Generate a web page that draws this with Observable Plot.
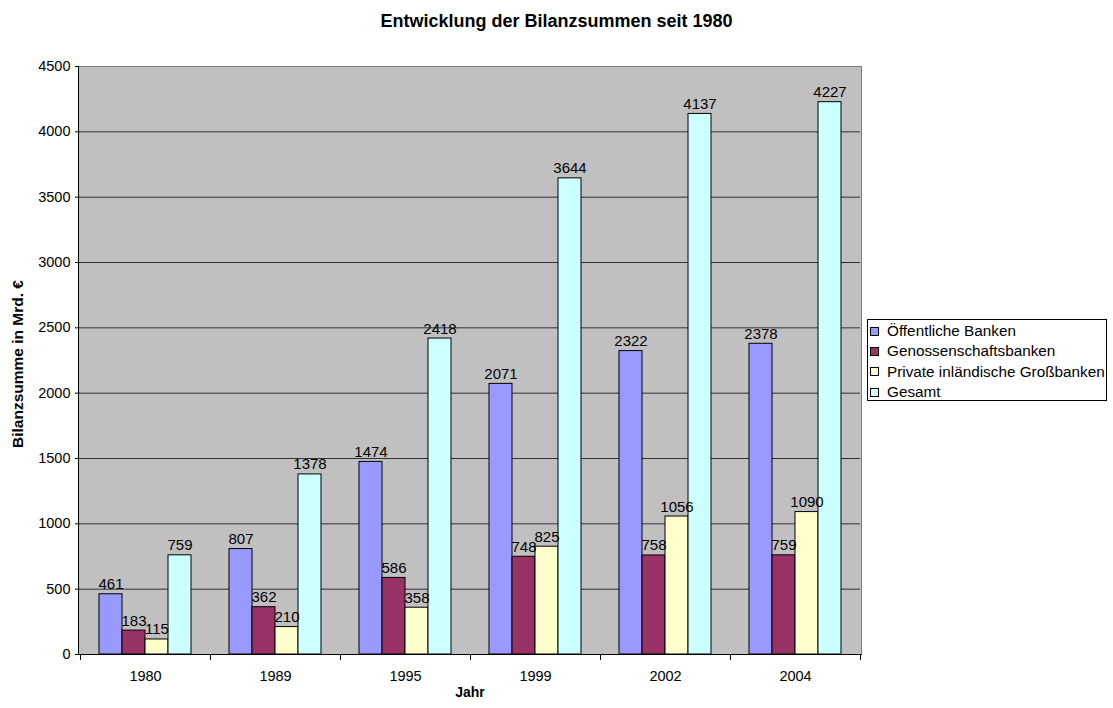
<!DOCTYPE html>
<html>
<head>
<meta charset="utf-8">
<script src="https://cdn.jsdelivr.net/npm/d3@7"></script>
<script src="https://cdn.jsdelivr.net/npm/@observablehq/plot@0.6"></script>
<style>
  html, body { margin: 0; padding: 0; background: #fff; }
  #wrap { position: relative; width: 1113px; height: 708px; font-family: "Liberation Sans", Arial, sans-serif; color: #000; }
  #title { position: absolute; left: 0; top: 11px; width: 1113px; text-align: center; font-weight: bold; font-size: 18px; line-height: 20px; }
  #legend { position: absolute; left: 867px; top: 319px; width: 240px; height: 82px; border: 1px solid #000; background: #fff; box-sizing: border-box; padding-top: 1px; }
  .li { display: flex; align-items: center; height: 20.3px; font-size: 15.3px; white-space: nowrap; }
  .sw { width: 7px; height: 7px; border: 1px solid #000; margin-left: 2px; margin-right: 8px; }
  #chart { position: absolute; left: 0; top: 0; }
</style>
</head>
<body>
<div id="wrap">
  <div id="chart"></div>
  <div id="title"></div>
  <div id="legend"></div>
</div>
<script>
const titleText = "Entwicklung der Bilanzsummen seit 1980";
const yLabel = "Bilanzsumme in Mrd. €";
const xLabel = "Jahr";
const years = ["1980", "1989", "1995", "1999", "2002", "2004"];
const series = ["Öffentliche Banken", "Genossenschaftsbanken", "Private inländische Großbanken", "Gesamt"];
const oeffentliche = [461, 807, 1474, 2071, 2322, 2378];
const genossenschaft = [183, 362, 586, 748, 758, 759];
const privat = [115, 210, 358, 825, 1056, 1090];
const gesamt = [759, 1378, 2418, 3644, 4137, 4227];
const yTicks = [0, 500, 1000, 1500, 2000, 2500, 3000, 3500, 4000, 4500];
const colors = ["#9999FF", "#993366", "#FFFFCC", "#CCFFFF"];

const seriesValues = [oeffentliche, genossenschaft, privat, gesamt];
const data = [];
years.forEach((yr, i) => {
  series.forEach((s, j) => {
    data.push({year: yr, series: s, value: seriesValues[j][i]});
  });
});

const chart = Plot.plot({
  width: 1113,
  height: 708,
  marginTop: 66,
  marginBottom: 54,
  marginLeft: 78,
  marginRight: 251,
  style: {fontFamily: "'Liberation Sans', Arial, sans-serif", fontSize: "14.5px", color: "#000", background: "transparent", overflow: "visible"},
  fx: {domain: years, padding: 0, label: null},
  x: {domain: series, paddingInner: 0, paddingOuter: 0.75, axis: null},
  y: {domain: [0, 4500], label: null},
  color: {domain: series, range: colors},
  marks: [
    Plot.gridY(yTicks, {stroke: "#000", strokeOpacity: 0.75, strokeWidth: 1}),
    Plot.barY(data, {fx: "year", x: "series", y: "value", fill: "series", stroke: "#000", strokeWidth: 1}),
    Plot.text(data, {fx: "year", x: "series", y: "value", text: d => String(d.value), lineAnchor: "bottom", dy: -5, fill: "#000", fontSize: 15}),
    Plot.axisY(yTicks, {tickSize: 5, tickPadding: 5, label: null, fontSize: 14.5, stroke: "#000", tickFormat: d => String(d)}),
    Plot.axisFx({anchor: "bottom", tickSize: 0, tickPadding: 16, label: null, fontSize: 14.5})
  ]
});
document.getElementById("chart").appendChild(chart);

// Chart furniture built from the library's scales
const svg = d3.select(chart);
const fx = chart.scale("fx");
const y = chart.scale("y");
const [x0, x1] = fx.range;
const [yb, yt] = y.range;
const bw = fx.bandwidth;
svg.insert("rect", ":first-child").attr("x", x0).attr("y", yt).attr("width", x1 - x0).attr("height", yb - yt)
  .attr("fill", "#C0C0C0");
const g = svg.append("g");
g.append("rect").attr("x", x0 + 0.5).attr("y", yt + 0.5).attr("width", x1 - x0 - 1).attr("height", yb - yt)
  .attr("fill", "none").attr("stroke", "#808080");
g.append("line").attr("x1", x0 + 0.5).attr("x2", x0 + 0.5).attr("y1", yt).attr("y2", yb).attr("stroke", "#000");
g.append("line").attr("x1", x0).attr("x2", x1).attr("y1", yb + 0.5).attr("y2", yb + 0.5).attr("stroke", "#000");
const edges = years.map(v => fx.apply(v)).concat([fx.apply(years[years.length - 1]) + bw]);
edges.forEach(e => {
  const xe = Math.round(e) + 0.5;
  g.append("line").attr("x1", xe).attr("x2", xe).attr("y1", yb).attr("y2", yb + 6).attr("stroke", "#000");
});
g.append("text").attr("x", (x0 + x1) / 2).attr("y", 697).attr("text-anchor", "middle")
  .attr("font-weight", "bold").attr("font-size", 14).attr("fill", "#000").text(xLabel);
g.append("text").attr("transform", `translate(22.5,${(yb + yt) / 2 + 4}) rotate(-90)`).attr("text-anchor", "middle")
  .attr("font-weight", "bold").attr("font-size", 15.5).attr("fill", "#000").text(yLabel);

document.getElementById("title").textContent = titleText;
const legend = document.getElementById("legend");
series.forEach((s, i) => {
  const row = document.createElement("div");
  row.className = "li";
  const sw = document.createElement("span");
  sw.className = "sw";
  sw.style.background = colors[i];
  const t = document.createElement("span");
  t.textContent = s;
  row.appendChild(sw);
  row.appendChild(t);
  legend.appendChild(row);
});
</script>
</body>
</html>
